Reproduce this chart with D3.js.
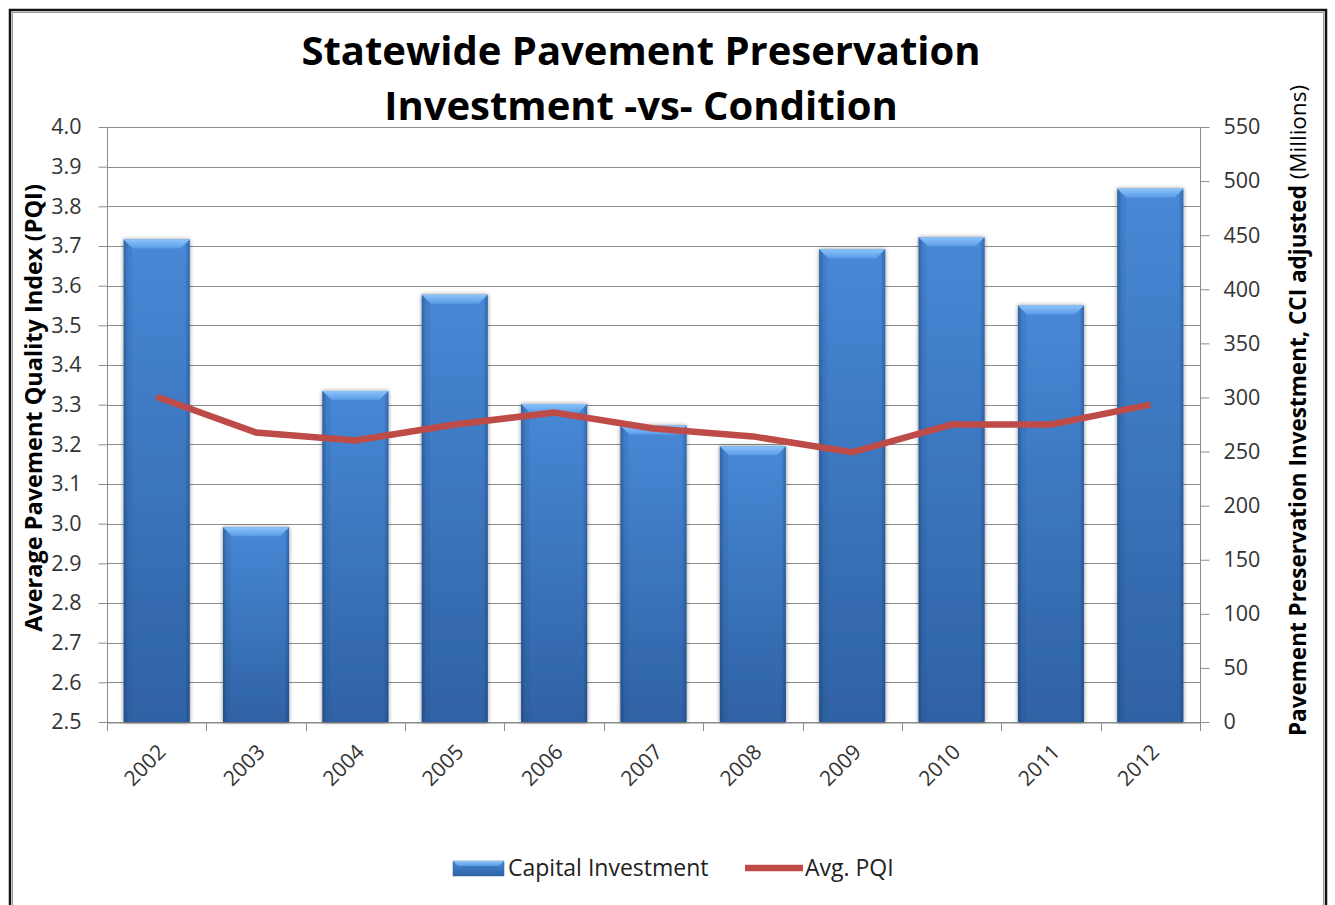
<!DOCTYPE html>
<html>
<head>
<meta charset="utf-8">
<script src="https://cdn.jsdelivr.net/npm/d3@7"></script>
<style>
  html, body { margin: 0; padding: 0; background: #fff; }
  svg { display: block; font-family: "Open Sans", "Noto Sans", sans-serif; }
</style>
</head>
<body>
<svg id="chart" width="1335" height="905"></svg>
<script>
// Statewide pavement preservation: capital investment (bars, right axis)
// against average pavement quality index (line, left axis).
const years = ["2002","2003","2004","2005","2006","2007","2008","2009","2010","2011","2012"];
const investment = [446, 180, 306, 395, 294, 274, 255, 437, 448, 385, 493];
const avgPQI = [3.32, 3.23, 3.21, 3.25, 3.28, 3.24, 3.22, 3.18, 3.25, 3.25, 3.30];
const pqiTicks = [2.5, 2.6, 2.7, 2.8, 2.9, 3.0, 3.1, 3.2, 3.3, 3.4, 3.5, 3.6, 3.7, 3.8, 3.9, 4.0];
const investTicks = [0, 50, 100, 150, 200, 250, 300, 350, 400, 450, 500, 550];
const titleLines = ["Statewide Pavement Preservation", "Investment -vs- Condition"];
const seriesNames = ["Capital Investment", "Avg. PQI"];

const svg = d3.select("#chart");
const plot = { left: 107, right: 1200, top: 127, bottom: 722 };

const x = d3.scaleBand().domain(years).range([plot.left, plot.right])
  .paddingInner(0.335).paddingOuter(0.1675);
const yL = d3.scaleLinear().domain([2.5, 4.0]).range([plot.bottom, plot.top]);
const yR = d3.scaleLinear().domain([0, 550]).range([plot.bottom, plot.top]);

// outer frame
svg.append("rect").attr("x", 10).attr("y", 10).attr("width", 1316).attr("height", 940)
  .attr("fill", "none").attr("stroke", "#111").attr("stroke-width", 2.5);
svg.append("rect").attr("x", 12.5).attr("y", 12.5).attr("width", 1311).attr("height", 935)
  .attr("fill", "none").attr("stroke", "#999").attr("stroke-width", 1);

const defs = svg.append("defs");
const vg = defs.append("linearGradient").attr("id", "barV").attr("x1", 0).attr("y1", 0).attr("x2", 0).attr("y2", 1);
vg.append("stop").attr("offset", "0%").attr("stop-color", "#4788d6");
vg.append("stop").attr("offset", "100%").attr("stop-color", "#2f62a4");
const hg = defs.append("linearGradient").attr("id", "barH").attr("x1", 0).attr("y1", 0).attr("x2", 1).attr("y2", 0);
hg.append("stop").attr("offset", "0%").attr("stop-color", "#0d2a55").attr("stop-opacity", 0.35);
hg.append("stop").attr("offset", "7%").attr("stop-color", "#0d2a55").attr("stop-opacity", 0.0);
hg.append("stop").attr("offset", "93%").attr("stop-color", "#0d2a55").attr("stop-opacity", 0.0);
hg.append("stop").attr("offset", "100%").attr("stop-color", "#0d2a55").attr("stop-opacity", 0.35);
const bev = defs.append("linearGradient").attr("id", "bevel").attr("x1", 0).attr("y1", 0).attr("x2", 0).attr("y2", 1);
bev.append("stop").attr("offset", "0%").attr("stop-color", "#8cc4fb");
bev.append("stop").attr("offset", "100%").attr("stop-color", "#5a9be6");
const shadow = defs.append("filter").attr("id", "shadow").attr("x", "-20%").attr("y", "-10%").attr("width", "140%").attr("height", "120%");
shadow.append("feDropShadow").attr("dx", 0).attr("dy", 0).attr("stdDeviation", 2.2)
  .attr("flood-color", "#000").attr("flood-opacity", 0.45);

// gridlines
svg.append("g").selectAll("line").data(pqiTicks).join("line")
  .attr("x1", plot.left).attr("x2", plot.right)
  .attr("y1", d => Math.round(yL(d)) + 0.5).attr("y2", d => Math.round(yL(d)) + 0.5)
  .attr("stroke", "#8c8c8c").attr("stroke-width", 1);

// axes
const fmt = d3.format(".1f");
const gL = svg.append("g").attr("transform", `translate(${plot.left + 0.5},0)`)
  .call(d3.axisLeft(yL).tickValues(pqiTicks).tickFormat(fmt).tickSize(9).tickPadding(17));
const gR = svg.append("g").attr("transform", `translate(${plot.right + 0.5},0)`)
  .call(d3.axisRight(yR).tickValues(investTicks).tickSize(9).tickPadding(14));
const gB = svg.append("g").attr("transform", `translate(0,${plot.bottom + 0.5})`)
  .call(d3.axisBottom(x).tickSize(0).tickFormat(""));
[gL, gR, gB].forEach(g => {
  g.select(".domain").attr("stroke", "#8c8c8c");
  g.selectAll(".tick line").attr("stroke", "#8c8c8c");
  g.selectAll("text").attr("fill", "#333").style("font-size", "21.5px")
    .style("font-family", "'Open Sans', 'Noto Sans', sans-serif");
});
gL.select(".domain").remove();
svg.append("line").attr("x1", plot.left + 0.5).attr("x2", plot.left + 0.5)
  .attr("y1", plot.top).attr("y2", plot.bottom + 9).attr("stroke", "#8c8c8c");
gR.select(".domain").remove();
svg.append("line").attr("x1", plot.right + 0.5).attr("x2", plot.right + 0.5)
  .attr("y1", plot.top).attr("y2", plot.bottom + 9).attr("stroke", "#8c8c8c");

// category boundary ticks
const step = x.step();
svg.append("g").selectAll("line").data(d3.range(years.length + 1)).join("line")
  .attr("x1", i => Math.round(plot.left + i * step) + 0.5)
  .attr("x2", i => Math.round(plot.left + i * step) + 0.5)
  .attr("y1", plot.bottom).attr("y2", plot.bottom + 9)
  .attr("stroke", "#8c8c8c");

// year labels
svg.append("g").selectAll("text").data(years).join("text")
  .attr("transform", d => `translate(${x(d) + x.bandwidth() / 2 + 5},${plot.bottom + 26}) rotate(-45)`)
  .attr("text-anchor", "end").attr("dy", "0.35em")
  .attr("fill", "#333").style("font-size", "21px")
  .text(d => d);

// bars
const bars = svg.append("g").selectAll("g").data(years).join("g");
bars.append("rect")
  .attr("x", d => x(d)).attr("width", x.bandwidth())
  .attr("y", (d, i) => yR(investment[i])).attr("height", (d, i) => plot.bottom - yR(investment[i]))
  .attr("fill", "url(#barV)").attr("filter", "url(#shadow)");
bars.append("rect")
  .attr("x", d => x(d)).attr("width", x.bandwidth())
  .attr("y", (d, i) => yR(investment[i])).attr("height", (d, i) => plot.bottom - yR(investment[i]))
  .attr("fill", "url(#barH)");
bars.append("path")
  .attr("d", (d, i) => {
    const x0 = x(d), x1 = x(d) + x.bandwidth(), y0 = yR(investment[i]), b = 9;
    return `M${x0},${y0}L${x1},${y0}L${x1 - b},${y0 + b}L${x0 + b},${y0 + b}Z`;
  })
  .attr("fill", "url(#bevel)");
bars.append("path")
  .attr("d", (d, i) => {
    const x0 = x(d), y0 = yR(investment[i]), b = 8;
    return `M${x0},${y0}L${x0 + b},${y0 + b}L${x0 + b},${plot.bottom}L${x0},${plot.bottom}Z`;
  })
  .attr("fill", "#1d467f").attr("opacity", 0.12);

// PQI line
const line = d3.line().x((d, i) => x(years[i]) + x.bandwidth() / 2).y(d => yL(d));
svg.append("path").datum(avgPQI).attr("d", line)
  .attr("fill", "none").attr("stroke", "#be4b48").attr("stroke-width", 6.5)
  .attr("stroke-linejoin", "miter");

// title
svg.append("g").selectAll("text").data(titleLines).join("text")
  .attr("x", 641).attr("y", (d, i) => 65 + i * 55)
  .attr("text-anchor", "middle").attr("fill", "#000")
  .style("font-size", "40px").style("font-weight", "bold")
  .text(d => d);

// axis titles
svg.append("text")
  .attr("transform", `translate(42,408) rotate(-90)`)
  .attr("text-anchor", "middle").attr("fill", "#000")
  .style("font-size", "23.5px").style("font-weight", "bold")
  .text("Average Pavement Quality Index (PQI)");
const rt = svg.append("text")
  .attr("transform", `translate(1306,${(plot.top + plot.bottom) / 2 - 14}) rotate(-90)`)
  .attr("text-anchor", "middle").attr("fill", "#000").style("font-size", "22.5px");
rt.append("tspan").style("font-weight", "bold").text("Pavement Preservation Investment, CCI adjusted");
rt.append("tspan").text(" (Millions)");

// legend
const lg = svg.append("g");
lg.append("rect").attr("x", 453).attr("y", 861).attr("width", 51).attr("height", 15)
  .attr("fill", "url(#barV)").attr("stroke", "#2f62a4").attr("stroke-width", 0.5);
lg.append("path").attr("d", "M453,861L504,861L499,866L458,866Z").attr("fill", "url(#bevel)");
lg.append("text").attr("x", 508).attr("y", 868).attr("dy", "0.35em")
  .attr("fill", "#222").style("font-size", "23px").text(seriesNames[0]);
lg.append("line").attr("x1", 745).attr("x2", 803).attr("y1", 868).attr("y2", 868)
  .attr("stroke", "#be4b48").attr("stroke-width", 6.5);
lg.append("text").attr("x", 805).attr("y", 868).attr("dy", "0.35em")
  .attr("fill", "#222").style("font-size", "23px").text(seriesNames[1]);
</script>
</body>
</html>
